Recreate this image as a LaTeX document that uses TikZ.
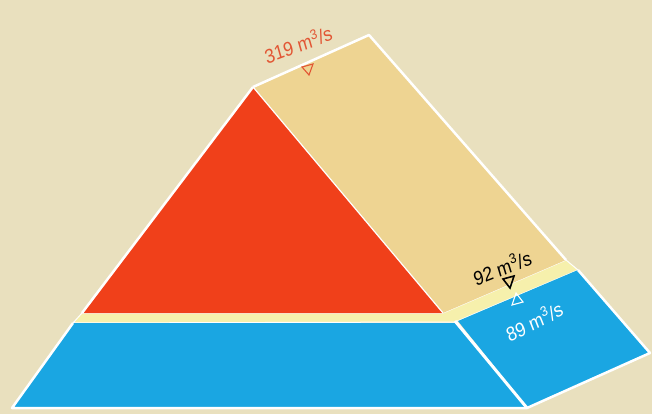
\documentclass[tikz,border=0pt]{standalone}
\usepackage{fontspec}
\setmainfont{Liberation Sans}
\definecolor{bgbeige}{RGB}{233,224,190}
\definecolor{tanc}{RGB}{238,212,146}
\definecolor{redc}{RGB}{240,64,26}
\definecolor{bluec}{RGB}{26,166,226}
\definecolor{palec}{RGB}{246,240,172}
\definecolor{labred}{RGB}{226,86,52}
\begin{document}
\begin{tikzpicture}[x=1pt,y=-1pt,
  edge/.style={draw=white,line width=2.5pt,line join=round},
  lab/.style={font=\fontsize{20}{20}\selectfont,inner sep=0pt,xscale=0.88},
  tri/.style={line width=1.1pt,line join=miter}]
\fill[bgbeige] (0,0) rectangle (652,414);
\useasboundingbox (0,0) rectangle (652,414);
% pale strip
\fill[palec,draw=white,line width=1pt] (82,313) -- (443,313) -- (566,260) -- (578,270) -- (455,322) -- (73,323) -- cycle;
% tan
\fill[tanc] (253,87) -- (369,35) -- (566,260) -- (443,313) -- cycle;
\draw[edge] (253,87) -- (369,35) -- (566,260);
% red
\fill[redc] (253,87) -- (443,313) -- (82,313) -- cycle;
\draw[edge] (82,313) -- (253,87);
\draw[draw=white,line width=1.2pt] (253,87) -- (443,313);
% big blue
\fill[bluec] (73,323) -- (455,323) -- (527,408) -- (12,408) -- cycle;
% small blue
\fill[bluec] (458,321) -- (578,270) -- (650,353) -- (527,407) -- cycle;
\draw[edge] (73,323) -- (12,408) -- (527,408) -- (650,353) -- (578,270);
\draw[draw=white,line width=3pt] (455,321) -- (527,408);
% labels
\node[lab,text=labred,rotate=18] (l319) at (298,44) {319 m\textsuperscript{3}/s};
\node[lab,text=black,rotate=19] (l92) at (502,267) {92 m\textsuperscript{3}/s};
\node[lab,text=white,rotate=24] (l89) at (534,321) {89 m\textsuperscript{3}/s};
% markers
\draw[tri,labred] (302,67) -- (313,64) -- (309,75) -- cycle;
\draw[tri,black,line width=1.6pt] (503,279) -- (514,276) -- (510,288) -- cycle;
\draw[tri,white] (512,305) -- (523,302) -- (516,293) -- cycle;
\end{tikzpicture}
\end{document}
